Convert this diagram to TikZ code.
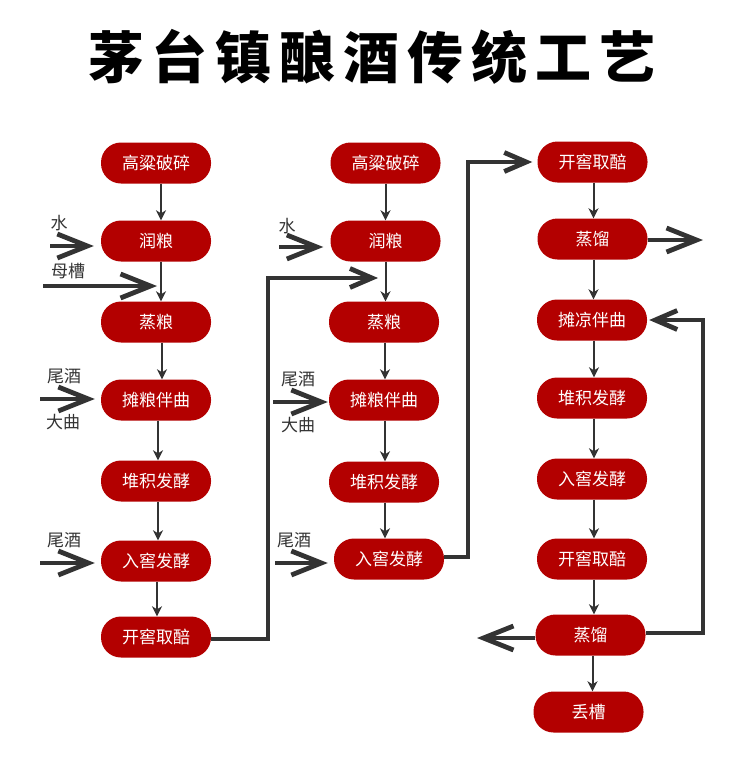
\documentclass[tikz,border=0pt]{standalone}
\usepackage{fontspec}
\newfontfamily\cjk{Noto Sans CJK SC}
\usetikzlibrary{arrows.meta}
\definecolor{boxred}{HTML}{B30000}
\definecolor{ink}{HTML}{333333}
\begin{document}
\begin{tikzpicture}[x=1pt,y=-1pt,
  stepbox/.style={rectangle, rounded corners=20pt, fill=boxred, text=white,
    minimum width=110pt, minimum height=41pt, inner sep=0pt,
    font=\cjk\fontsize{17}{17}\selectfont},
  lbl/.style={text=ink, inner sep=0pt, font=\cjk\fontsize{17}{17}\selectfont},
  thinarrow/.style={draw=ink, line width=2pt, -{Stealth[length=10pt,width=10pt,inset=3pt]}},
  bigarrow/.style={draw=ink, line width=4.8pt, -{Straight Barb[length=30pt,width=24pt]}},
  midarrow/.style={draw=ink, line width=4.8pt, -{Straight Barb[length=22pt,width=19pt]}},
  ]
\useasboundingbox (0,0) rectangle (750,758);
\fill[white] (0,0) rectangle (750,758);

\node[text=black, inner sep=0pt, font=\cjk\bfseries\fontsize{56}{56}\selectfont] (title) at (372,57)
  {茅\hspace{8pt}台\hspace{8pt}镇\hspace{8pt}酿\hspace{8pt}酒\hspace{8pt}传\hspace{8pt}统\hspace{8pt}工\hspace{8pt}艺};

% column 1
\node[stepbox] (a1) at (156,163) {高粱破碎};
\node[stepbox] (a2) at (156,241) {润粮};
\node[stepbox] (a3) at (156,322) {蒸粮};
\node[stepbox] (a4) at (156,400) {摊粮伴曲};
\node[stepbox] (a5) at (156,481) {堆积发酵};
\node[stepbox] (a6) at (156,561) {入窖发酵};
\node[stepbox] (a7) at (156,637) {开窖取醅};

% column 2
\node[stepbox] (b1) at (385.5,163) {高粱破碎};
\node[stepbox] (b2) at (385.5,241) {润粮};
\node[stepbox] (b3) at (384,322) {蒸粮};
\node[stepbox] (b4) at (384,400) {摊粮伴曲};
\node[stepbox] (b5) at (384,482) {堆积发酵};
\node[stepbox] (b6) at (389,559) {入窖发酵};

% column 3
\node[stepbox] (c1) at (592.5,162) {开窖取醅};
\node[stepbox] (c2) at (592.5,239) {蒸馏};
\node[stepbox] (c3) at (592,320) {摊凉伴曲};
\node[stepbox] (c4) at (592,398) {堆积发酵};
\node[stepbox] (c5) at (592,479) {入窖发酵};
\node[stepbox] (c6) at (592,559) {开窖取醅};
\node[stepbox] (c7) at (590.5,635) {蒸馏};
\node[stepbox] (c8) at (588.5,712) {丢槽};

% labels
\node[lbl] (l1) at (59,223) {水};
\node[lbl] (l2) at (68,271) {母槽};
\node[lbl] (l3) at (64,376) {尾酒};
\node[lbl] (l4) at (63,422) {大曲};
\node[lbl] (l5) at (64,540) {尾酒};
\node[lbl] (l6) at (287,226) {水};
\node[lbl] (l7) at (298,379) {尾酒};
\node[lbl] (l8) at (298,425) {大曲};
\node[lbl] (l9) at (294,540) {尾酒};

% thin flow arrows, column 1
\draw[thinarrow] ([xshift=5pt]a1.south) -- ([xshift=5pt]a1.south |- a2.north);
\draw[thinarrow] ([xshift=5pt]a2.south) -- ([xshift=5pt]a2.south |- a3.north);
\draw[thinarrow] ([xshift=6pt]a3.south) -- ([xshift=6pt]a3.south |- a4.north);
\draw[thinarrow] ([xshift=2pt]a4.south) -- ([xshift=2pt]a4.south |- a5.north);
\draw[thinarrow] ([xshift=2pt]a5.south) -- ([xshift=2pt]a5.south |- a6.north);
\draw[thinarrow] ([xshift=1pt]a6.south) -- ([xshift=1pt]a6.south |- a7.north);
% column 2
\draw[thinarrow] (b1.south) -- (b1.south |- b2.north);
\draw[thinarrow] (b2.south) -- (b2.south |- b3.north);
\draw[thinarrow] ([xshift=1pt]b3.south) -- ([xshift=1pt]b3.south |- b4.north);
\draw[thinarrow] ([xshift=1pt]b4.south) -- ([xshift=1pt]b4.south |- b5.north);
\draw[thinarrow] ([xshift=1pt]b5.south) -- ([xshift=1pt]b5.south |- b6.north);
% column 3
\draw[thinarrow] ([xshift=1pt]c1.south) -- ([xshift=1pt]c1.south |- c2.north);
\draw[thinarrow] ([xshift=1pt]c2.south) -- ([xshift=1pt]c2.south |- c3.north);
\draw[thinarrow] ([xshift=2pt]c3.south) -- ([xshift=2pt]c3.south |- c4.north);
\draw[thinarrow] ([xshift=2pt]c4.south) -- ([xshift=2pt]c4.south |- c5.north);
\draw[thinarrow] ([xshift=2pt]c5.south) -- ([xshift=2pt]c5.south |- c6.north);
\draw[thinarrow] ([xshift=2pt]c6.south) -- ([xshift=2pt]c6.south |- c7.north);
\draw[thinarrow] ([xshift=2pt]c7.south) -- ([xshift=2pt]c7.south |- c8.north);

% input arrows
\coordinate (w1) at (50,246);
\coordinate (m1) at (43,286);
\coordinate (t1) at (40,399);
\coordinate (t2) at (40,563);
\coordinate (w2) at (279,247);
\coordinate (t3) at (273,402);
\coordinate (t4) at (275,563);
\draw[bigarrow] (w1) -- ([xshift=-7pt]a2.west |- w1);
\draw[bigarrow] (m1) -- ([xshift=1pt]a2.south |- m1);
\draw[bigarrow] (t1) -- ([xshift=-6pt]a4.west |- t1);
\draw[bigarrow] (t2) -- ([xshift=-6pt]a6.west |- t2);
\draw[bigarrow] (w2) -- ([xshift=-7pt]b2.west |- w2);
\draw[bigarrow] (t3) -- ([xshift=-1pt]b4.west |- t3);
\draw[bigarrow] (t4) -- ([xshift=-6pt]b6.west |- t4);

% connectors between columns
\coordinate (k0) at (268,639);
\coordinate (k0b) at (268,278);
\coordinate (k1) at (378,278);
\draw[midarrow] (a7.east |- k0) -- (k0) -- (k0b) -- (k1);
\coordinate (k2) at (468,557);
\coordinate (k2b) at (468,162);
\draw[midarrow] (b6.east |- k2) -- (k2) -- (k2b) -- ([xshift=-5pt]c1.west |- k2b);
% outputs and feedback
\coordinate (k3) at (703,240);
\draw[bigarrow] (c2.east |- k3) -- (k3);
\coordinate (k4) at (703,633);
\coordinate (k4b) at (703,320);
\draw[midarrow] (c7.east |- k4) -- (k4) -- (k4b) -- ([xshift=2pt]c3.east |- k4b);
\coordinate (k5) at (477,638);
\draw[bigarrow] (c7.west |- k5) -- (k5);
\end{tikzpicture}
\end{document}
